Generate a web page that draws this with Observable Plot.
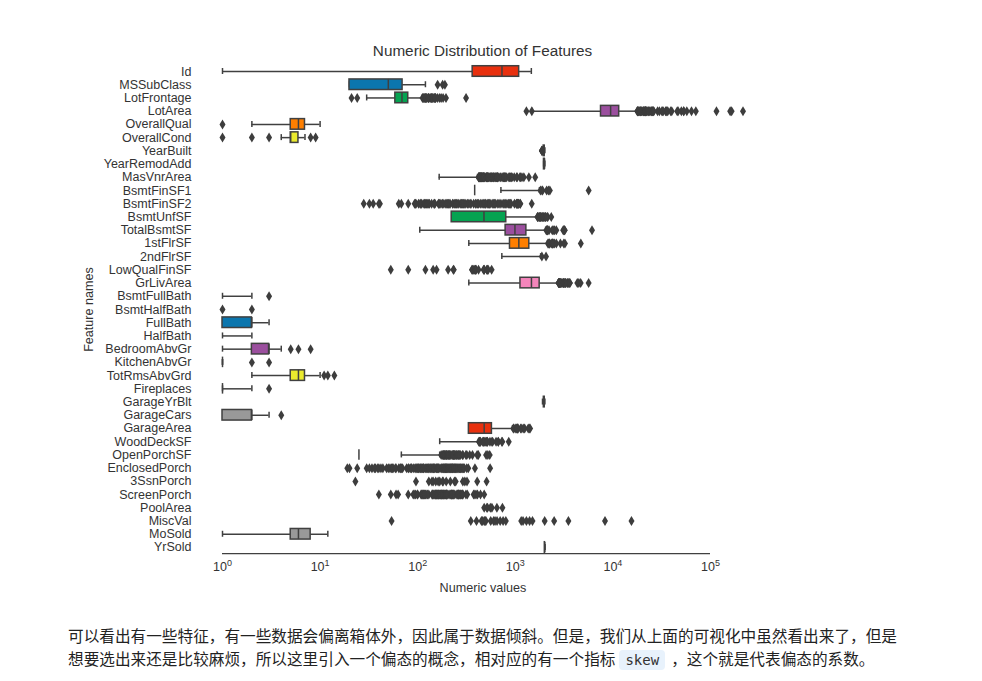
<!DOCTYPE html>
<html><head><meta charset="utf-8">
<script src="https://cdn.jsdelivr.net/npm/d3@7"></script>
<script src="https://cdn.jsdelivr.net/npm/@observablehq/plot@0.6"></script>
<style>
body{margin:0;background:#fff;}
#title{width:965px;height:16px;padding-top:43px;text-align:center;font-family:"Liberation Sans",Arial,sans-serif;font-size:15.3px;line-height:16px;color:#333;}
#chart svg{display:block;}
#note{margin:19.5px 0 0 68px;font-family:"Noto Sans CJK SC",sans-serif;font-size:15.65px;line-height:23px;color:#222;white-space:nowrap;}
#note code{font-family:"DejaVu Sans Mono",monospace;font-size:14px;background:#e8f2fc;border-radius:4px;padding:2px 6px;color:#333;margin:0 6px 0 4px;}
</style></head>
<body>
<div id="title">Numeric Distribution of Features</div>
<div id="chart"></div>
<div id="note">可以看出有一些特征，有一些数据会偏离箱体外，因此属于数据倾斜。但是，我们从上面的可视化中虽然看出来了，但是<br>想要选出来还是比较麻烦，所以这里引入一个偏态的概念，相对应的有一个指标<code>skew</code>，这个就是代表偏态的系数。</div>
<script>
const features = ["Id","MSSubClass","LotFrontage","LotArea","OverallQual","OverallCond","YearBuilt","YearRemodAdd","MasVnrArea","BsmtFinSF1","BsmtFinSF2","BsmtUnfSF","TotalBsmtSF","1stFlrSF","2ndFlrSF","LowQualFinSF","GrLivArea","BsmtFullBath","BsmtHalfBath","FullBath","HalfBath","BedroomAbvGr","KitchenAbvGr","TotRmsAbvGrd","Fireplaces","GarageYrBlt","GarageCars","GarageArea","WoodDeckSF","OpenPorchSF","EnclosedPorch","3SsnPorch","ScreenPorch","PoolArea","MiscVal","MoSold","YrSold"];
const whiskerLow  = [1, 20, 30, 1491, 2, 4, 1885, 1950, 0, 0, 0, 0, 105, 334, 0, 0, 334, 0, 0, 0, 0, 1, 1, 2, 0, 1900, 0, 0, 0, 0, 0, 0, 0, 0, 0, 1, 2006];
const quartile1   = [365.75, 20, 59, 7553.5, 5, 5, 1954, 1967, 0, 0, 0, 223, 795.75, 882, 0, 0, 1129.5, 0, 0, 1, 0, 2, 1, 5, 0, 1961, 1, 334.5, 0, 0, 0, 0, 0, 0, 0, 5, 2007];
const medians     = [730.5, 50, 69, 9478.5, 6, 5, 1973, 1994, 0, 383.5, 0, 477.5, 991.5, 1087, 0, 0, 1464, 0, 0, 2, 0, 3, 1, 6, 1, 1980, 2, 480, 0, 25, 0, 0, 0, 0, 0, 6, 2008];
const quartile3   = [1095.25, 70, 80, 11601.5, 7, 6, 2000, 2004, 166, 712.25, 0, 808, 1298.25, 1391.25, 728, 0, 1776.75, 1, 0, 2, 1, 3, 1, 7, 1, 2002, 2, 576, 168, 68, 0, 0, 0, 0, 0, 8, 2009];
const whiskerHigh = [1460, 120, 111, 17671, 10, 7, 2010, 2010, 410, 1767, 0, 1680, 2046, 2136, 1818, 0, 2730, 2, 0, 3, 2, 4, 1, 10, 2, 2010, 3, 936, 420, 168, 0, 0, 0, 0, 0, 12, 2010];
const outliers = [
  [],
  [160, 180, 190],
  [21, 24, 112, 114, 116, 118, 120, 121, 122, 124, 128, 129, 130, 134, 137, 138, 140, 141, 144, 149, 150, 152, 153, 160, 168, 174, 182, 195, 313],
  [1300, 1477, 17755, 17920, 18000, 18030, 18386, 18450, 18800, 19138, 19296, 19378, 19690, 19900, 20431, 20544, 20781, 20896, 21000, 21384, 21453, 21535, 21695, 21780, 21872, 21930, 22420, 22950, 23257, 23595, 24090, 25000, 25095, 25286, 25339, 26142, 26178, 28698, 29959, 31770, 32463, 32668, 34650, 35133, 35760, 36500, 39104, 40094, 45600, 46589, 50271, 53107, 53227, 57200, 63887, 70761, 115149, 159000, 164660, 215245],
  [1],
  [1, 2, 3, 8, 9],
  [1872, 1875, 1880, 1882],
  [],
  [420, 423, 424, 425, 428, 430, 432, 434, 436, 438, 442, 443, 444, 448, 450, 451, 452, 456, 459, 464, 466, 468, 470, 472, 473, 479, 480, 481, 500, 504, 506, 510, 513, 515, 516, 519, 522, 527, 530, 541, 554, 562, 564, 571, 576, 584, 594, 600, 604, 616, 630, 632, 640, 650, 651, 653, 660, 664, 680, 705, 731, 748, 762, 766, 768, 772, 788, 796, 816, 860, 870, 894, 921, 922, 975, 1031, 1047, 1115, 1129, 1170, 1224, 1378, 1600],
  [1810, 1880, 1904, 2096, 2188, 2260, 5644],
  [28, 32, 35, 40, 41, 64, 68, 80, 93, 95, 96, 102, 106, 108, 110, 116, 117, 120, 123, 127, 128, 132, 139, 147, 149, 150, 163, 165, 168, 173, 180, 182, 191, 196, 202, 206, 210, 215, 228, 230, 239, 245, 250, 258, 264, 276, 281, 287, 294, 300, 311, 324, 334, 345, 352, 374, 391, 396, 410, 420, 438, 456, 469, 480, 492, 500, 522, 532, 547, 551, 580, 600, 612, 630, 662, 682, 712, 750, 768, 790, 820, 850, 869, 891, 906, 981, 1029, 1031, 1057, 1061, 1063, 1080, 1085, 1120, 1127, 1474],
  [1689, 1694, 1710, 1753, 1777, 1795, 1800, 1824, 1869, 1907, 1926, 1935, 2002, 2042, 2046, 2121, 2153, 2336],
  [2076, 2110, 2121, 2136, 2153, 2216, 2392, 2444, 2524, 2633, 3094, 3138, 3200, 3206, 6110],
  [2158, 2207, 2217, 2234, 2259, 2364, 2392, 2402, 2411, 2444, 2515, 2633, 2898, 3138, 3228, 4692],
  [1872, 2065],
  [53, 80, 120, 144, 156, 205, 232, 234, 360, 362, 371, 384, 390, 392, 397, 420, 473, 479, 481, 513, 514, 515, 528, 572],
  [2775, 2784, 2792, 2794, 2822, 2828, 2842, 2868, 2872, 2898, 2944, 2945, 3082, 3086, 3112, 3140, 3222, 3228, 3238, 3279, 3395, 3447, 3493, 3608, 3627, 4316, 4476, 4676, 5642],
  [3],
  [1, 2],
  [],
  [],
  [5, 6, 8],
  [2, 3],
  [11, 12, 14],
  [3],
  [],
  [4],
  [954, 968, 1014, 1020, 1043, 1052, 1053, 1069, 1134, 1166, 1220, 1248, 1356, 1390, 1418],
  [424, 428, 431, 436, 441, 466, 468, 474, 486, 500, 505, 517, 519, 550, 576, 586, 635, 668, 670, 728, 736, 857],
  [174, 180, 184, 185, 187, 189, 192, 195, 198, 199, 200, 205, 207, 211, 213, 216, 224, 228, 231, 234, 235, 236, 238, 244, 250, 252, 258, 262, 265, 267, 274, 287, 291, 312, 319, 341, 364, 406, 418, 502, 523, 547],
  [19, 20, 24, 30, 32, 34, 36, 37, 39, 40, 42, 44, 48, 50, 52, 54, 55, 56, 59, 60, 64, 66, 67, 68, 70, 77, 80, 81, 84, 86, 87, 91, 94, 96, 98, 100, 101, 102, 105, 107, 108, 110, 112, 114, 115, 116, 120, 123, 126, 128, 130, 133, 136, 137, 140, 143, 144, 145, 148, 150, 154, 156, 158, 160, 162, 164, 169, 174, 177, 180, 184, 185, 189, 190, 192, 194, 196, 198, 200, 202, 205, 208, 212, 214, 216, 219, 221, 224, 226, 228, 230, 234, 236, 239, 242, 244, 248, 252, 254, 259, 264, 268, 272, 275, 280, 286, 291, 294, 301, 318, 330, 386, 552],
  [23, 96, 130, 140, 144, 153, 162, 168, 180, 182, 196, 216, 238, 245, 290, 304, 320, 407, 508],
  [40, 53, 60, 63, 80, 90, 92, 95, 99, 100, 108, 110, 111, 113, 115, 116, 117, 120, 122, 126, 130, 140, 142, 143, 144, 147, 150, 152, 153, 154, 155, 156, 160, 161, 162, 163, 165, 168, 170, 171, 174, 175, 176, 178, 180, 182, 184, 185, 189, 190, 192, 195, 196, 197, 198, 200, 204, 210, 216, 220, 222, 224, 225, 227, 233, 234, 240, 252, 255, 259, 260, 263, 265, 266, 273, 276, 280, 287, 288, 291, 312, 322, 374, 385, 396, 410, 440, 480],
  [480, 512, 519, 555, 576, 648, 738],
  [54, 350, 400, 450, 460, 480, 490, 500, 560, 600, 620, 650, 700, 750, 800, 1150, 1200, 1300, 1400, 1500, 2000, 2500, 3500, 8300, 15500],
  [],
  []
];
const xTicks = [1, 10, 100, 1000, 10000, 100000];
const palette = ["#e8300e", "#0b76ae", "#05a351", "#9b4f9e", "#ff7f00", "#eaea2e", "#a65628", "#f485bb", "#999999"];

const W = 982, H = 545, mT = 5.4, mB = 50.4, mL = 196, mR = 213;
const edge = "#404040", lw = 1.5;
const step = (H - mT - mB) / features.length;
const capInset = (step * 0.8 - 6) / 2;

const rows = features.map((f, i) => ({
  f, wlo: whiskerLow[i], q1: quartile1[i], med: medians[i], q3: quartile3[i], whi: whiskerHigh[i], color: palette[i % palette.length]
}));
const pts = outliers.flatMap((arr, i) => arr.map(v => ({f: features[i], v})));

const thinDiamond = {
  draw(ctx, size) {
    const r = Math.sqrt(size / Math.PI);
    ctx.moveTo(0, -r);
    ctx.lineTo(r * 0.6, 0);
    ctx.lineTo(0, r);
    ctx.lineTo(-r * 0.6, 0);
    ctx.closePath();
  }
};

const chart = Plot.plot({
  width: W, height: H,
  marginTop: mT, marginBottom: mB, marginLeft: mL, marginRight: mR,
  style: {fontFamily: "'Liberation Sans', Arial, sans-serif", fontSize: "12.5px", color: "#333", background: "#fff"},
  x: {type: "log", domain: [xTicks[0], xTicks[xTicks.length - 1]], range: [222, 710]},
  y: {type: "band", domain: features, paddingInner: 0.2, paddingOuter: 0.1, round: false},
  color: {type: "identity"},
  marks: [
    Plot.ruleY(rows.filter(d => d.wlo > 0 && d.q1 > 0), {y: "f", x1: "wlo", x2: "q1", stroke: edge, strokeWidth: lw}),
    Plot.ruleY(rows.filter(d => d.q3 > 0 && d.whi > 0), {y: "f", x1: "q3", x2: "whi", stroke: edge, strokeWidth: lw}),
    Plot.tickX(rows.filter(d => d.wlo > 0), {y: "f", x: "wlo", stroke: edge, strokeWidth: lw, insetTop: capInset, insetBottom: capInset}),
    Plot.tickX(rows.filter(d => d.whi > 0), {y: "f", x: "whi", stroke: edge, strokeWidth: lw, insetTop: capInset, insetBottom: capInset}),
    Plot.barX(rows.filter(d => d.q1 > 0), {y: "f", x1: "q1", x2: "q3", fill: "color", stroke: edge, strokeWidth: lw}),
    Plot.tickX(rows.filter(d => d.q1 <= 0 && d.q3 > 0), {y: "f", x: "q3", stroke: edge, strokeWidth: lw, insetTop: capInset, insetBottom: capInset}),
    Plot.tickX(rows.filter(d => d.med > 0), {y: "f", x: "med", stroke: edge, strokeWidth: lw}),
    Plot.dot(pts, {x: "v", y: "f", symbol: thinDiamond, r: 5, fill: "#3d3d3d", stroke: "none"}),
    Plot.ruleY([features[features.length - 1]], {x1: xTicks[0], x2: xTicks[xTicks.length - 1], dy: step / 2 - 0.5, stroke: edge, strokeWidth: 1.3}),
    Plot.axisX({ticks: xTicks, tickSize: 0, tickPadding: 8, tickFormat: d => "10^" + Math.round(Math.log10(d)), label: null, fontSize: 12.5}),
    Plot.axisY({tickSize: 0, tickPadding: 5, label: null, fontSize: 12.5}),
    Plot.text(["Numeric values"], {frameAnchor: "bottom", dy: 33.4, lineAnchor: "middle", textAnchor: "middle", fontSize: 12.6}),
    Plot.text(["Feature names"], {frameAnchor: "left", dx: -108, rotate: -90, lineAnchor: "middle", textAnchor: "middle", fontSize: 12.6})
  ]
});
// render x tick labels as 10 with a raised exponent
d3.select(chart).selectAll('g[aria-label="x-axis tick label"] text').each(function() {
  const t = this.textContent;
  const m = /^10\^(\d+)$/.exec(t);
  if (!m) return;
  const sel = d3.select(this);
  sel.text(null);
  sel.append("tspan").text("10");
  sel.append("tspan").attr("dy", "-0.5em").attr("font-size", "0.72em").text(m[1]);
});
document.getElementById("chart").appendChild(chart);
</script>
</body></html>
